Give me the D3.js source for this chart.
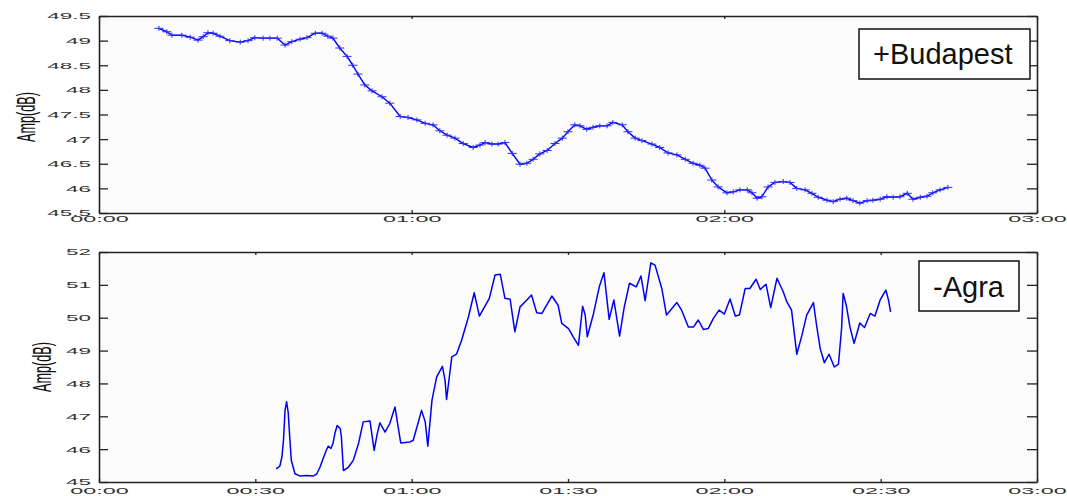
<!DOCTYPE html>
<html><head><meta charset="utf-8">
<script src="https://cdn.jsdelivr.net/npm/d3@7/dist/d3.min.js"></script>
<style>body{margin:0;background:#fff}svg{display:block}</style>
</head><body><svg id="c" width="1067" height="496"></svg>
<script>
// Time in minutes since 00:00, amplitude in dB
const budTime=[11.5,13.0,14.0,15.9,17.5,19.0,20.0,20.9,21.9,23.2,25.1,27.1,28.6,29.9,31.5,32.8,34.2,35.7,37.0,38.6,39.9,41.5,42.8,43.9,44.9,46.2,47.6,48.7,49.7,51.0,52.4,54.3,55.8,57.8,59.3,61.0,62.6,64.1,65.4,66.8,68.3,69.9,71.8,73.1,74.1,75.4,76.6,77.9,79.3,80.8,82.1,83.3,84.6,86.0,87.5,88.9,90.0,91.3,92.3,93.6,94.8,96.1,97.5,98.6,100.4,101.5,102.9,104.2,106.1,107.6,109.2,110.9,112.5,114.0,115.3,116.3,117.6,118.8,120.5,121.7,123.0,124.4,125.3,126.3,127.2,128.4,129.7,131.3,132.6,133.9,135.5,136.8,138.0,139.7,140.9,142.2,143.5,144.7,146.0,147.4,148.5,149.9,151.2,152.4,153.7,155.1,156.2,157.6,158.9,160.0,161.4,162.9];
const budAmp=[49.25,49.18,49.11,49.11,49.07,49.01,49.08,49.16,49.15,49.09,49.00,48.97,49.00,49.06,49.05,49.05,49.05,48.91,48.98,49.03,49.06,49.15,49.15,49.09,49.05,48.85,48.68,48.50,48.32,48.10,47.98,47.86,47.73,47.46,47.44,47.39,47.32,47.29,47.17,47.08,47.02,46.91,46.83,46.88,46.93,46.90,46.90,46.93,46.71,46.49,46.51,46.59,46.70,46.77,46.91,47.02,47.15,47.29,47.27,47.20,47.24,47.27,47.27,47.34,47.29,47.15,47.02,46.97,46.90,46.83,46.72,46.68,46.59,46.51,46.47,46.41,46.17,46.03,45.91,45.93,45.97,45.97,45.91,45.80,45.83,46.03,46.12,46.14,46.12,46.00,45.97,45.90,45.82,45.76,45.73,45.78,45.80,45.75,45.70,45.75,45.76,45.78,45.83,45.82,45.83,45.90,45.78,45.82,45.84,45.91,45.97,46.02];

const agraTime=[34.0,34.7,35.1,35.4,35.7,36.0,36.3,36.6,36.9,37.6,38.6,39.9,41.1,41.8,42.4,43.0,43.6,44.0,44.5,44.9,45.3,45.7,46.3,46.5,46.9,47.8,48.8,49.8,50.7,52.0,52.8,53.4,53.9,54.9,55.8,56.8,57.9,59.7,60.3,61.9,62.6,63.1,63.9,64.8,65.9,66.4,66.7,67.7,68.6,69.6,70.9,72.0,73.0,73.8,74.9,76.0,77.0,77.9,78.9,79.8,80.8,82.1,83.0,84.0,85.0,85.9,86.9,88.1,88.8,90.1,91.0,92.0,92.8,93.3,93.7,94.9,96.0,96.9,97.9,98.8,99.9,100.8,101.8,103.1,104.0,104.8,105.9,106.7,108.0,108.9,110.9,111.8,113.1,114.1,115.0,116.0,116.9,117.9,119.0,120.0,121.1,122.1,122.9,124.0,124.9,126.1,126.9,128.0,128.9,130.1,131.3,132.0,132.9,133.9,134.9,135.8,137.1,137.7,138.4,139.2,140.1,141.1,141.9,142.5,142.8,143.4,144.1,144.9,146.0,146.9,148.0,148.9,149.9,151.0,151.5,151.9];
const agraAmp=[45.40,45.48,45.76,46.27,47.18,47.44,47.13,46.37,45.66,45.25,45.18,45.20,45.18,45.25,45.45,45.71,45.96,46.09,46.02,46.17,46.50,46.72,46.62,46.40,45.35,45.44,45.66,46.17,46.83,46.86,45.96,46.47,46.80,46.52,46.78,47.28,46.19,46.22,46.27,47.18,46.83,46.09,47.49,48.20,48.52,48.10,47.51,48.81,48.89,49.32,50.03,50.76,50.05,50.28,50.59,51.30,51.32,50.59,50.56,49.57,50.33,50.54,50.69,50.15,50.13,50.38,50.66,50.38,49.83,49.67,49.42,49.16,50.35,50.08,49.42,50.13,50.94,51.37,49.95,50.54,49.44,50.33,51.05,50.94,51.27,50.52,51.67,51.60,50.89,50.08,50.46,50.23,49.72,49.72,49.93,49.64,49.67,49.98,50.23,50.11,50.57,50.05,50.08,50.89,50.89,51.17,50.86,51.02,50.31,51.20,50.79,50.48,50.23,48.89,49.47,50.08,50.46,49.77,49.06,48.63,48.89,48.50,48.59,49.67,50.74,50.38,49.72,49.22,49.84,49.70,50.13,50.05,50.54,50.84,50.54,50.18];

const budYTicks=[45.5,46,46.5,47,47.5,48,48.5,49,49.5];
const agraYTicks=[45,46,47,48,49,50,51,52];
const budXTicks=[0,60,120,180];
const agraXTicks=[0,30,60,90,120,150,180];
const budLabel="+Budapest", agraLabel="-Agra", yTitle="Amp(dB)";

const svg=d3.select("#c");
const X0=99,X1=1037;
const fmtTime=m=>String(Math.floor(m/60)).padStart(2,"0")+":"+String(m%60).padStart(2,"0");
const fmtY=d=>(d%1===0?String(d):d.toFixed(1));
const LBL="'Liberation Sans',Arial,sans-serif";

function panel(c){
  const x=d3.scaleLinear().domain([0,180]).range([X0,X1]);
  const y=d3.scaleLinear().domain(c.yDomain).range([c.bottom,c.top]);
  const g=svg.append("g");
  g.append("rect").attr("x",X0).attr("y",c.top).attr("width",X1-X0).attr("height",c.bottom-c.top).attr("fill","#fbfbfb");

  const axL=g.append("g").attr("transform",`translate(${X0},0)`)
    .call(d3.axisLeft(y).tickValues(c.yTicks).tickFormat(fmtY).tickSizeInner(-9).tickSizeOuter(0).tickPadding(8));
  const axR=g.append("g").attr("transform",`translate(${X1},0)`)
    .call(d3.axisRight(y).tickValues(c.yTicks).tickFormat("").tickSizeInner(-10).tickSizeOuter(0));
  const axB=g.append("g").attr("transform",`translate(0,${c.bottom})`)
    .call(d3.axisBottom(x).tickValues(c.xTicks).tickFormat(fmtTime).tickSizeInner(-3).tickSizeOuter(0).tickPadding(c.xPad));
  const axT=g.append("g").attr("transform",`translate(0,${c.top})`)
    .call(d3.axisTop(x).tickValues(c.xTicks).tickFormat("").tickSizeInner(-3).tickSizeOuter(0));
  [axL,axR,axB,axT].forEach(a=>{
    a.select(".domain").attr("stroke","#222").attr("stroke-width",1.6);
    a.selectAll(".tick line").attr("stroke","#222").attr("stroke-width",1.3);
    a.selectAll("text").attr("font-family",LBL).attr("font-size",9).attr("fill","#333");
  });
  axL.selectAll(".tick text").each(function(){
    const t=d3.select(this); const tx=+t.attr("x");
    t.attr("x",0).attr("transform",`translate(${tx},0) scale(2.5,1)`);
  });
  axB.selectAll(".tick text").attr("transform","scale(2.6,1)");

  const pts=c.time.map((t,i)=>[t,c.amp[i]]);
  g.append("path").datum(pts).attr("fill","none").attr("stroke","#0000f0").attr("stroke-width",c.lw)
    .attr("stroke-linejoin","round").attr("d",d3.line().x(d=>x(d[0])).y(d=>y(d[1])));
  if(c.markers){
    g.append("g").selectAll("path").data(pts).join("path")
      .attr("fill","none").attr("stroke","#2a2aff").attr("stroke-width",1)
      .attr("d",d=>{const cx=x(d[0]),cy=y(d[1]);return `M${cx-4.5},${cy}h9M${cx},${cy-2.5}v5`;});
  }
  // legend
  g.append("rect").attr("x",c.leg[0]).attr("y",c.leg[1]).attr("width",c.leg[2]).attr("height",c.leg[3])
    .attr("fill","#fff").attr("stroke","#111").attr("stroke-width",1.5);
  g.append("text").attr("x",c.leg[4]).attr("y",c.leg[5]).text(c.label)
    .attr("font-family",LBL).attr("font-size",29).attr("fill","#111");
  // y title
  g.append("text").attr("transform",`translate(${c.yl[0]},${c.yl[1]}) rotate(-90)`)
    .attr("text-anchor","middle").attr("dy","0.35em").attr("textLength",50).attr("lengthAdjust","spacingAndGlyphs")
    .attr("font-family",LBL).attr("font-size",25).attr("fill","#111").text(yTitle);
}

panel({top:16,bottom:213,yDomain:[45.5,49.5],yTicks:budYTicks,xTicks:budXTicks,xPad:3,
  time:budTime,amp:budAmp,markers:true,lw:1.4,label:budLabel,
  leg:[859,29,171,50,873,64],yl:[26,117]});
panel({top:252,bottom:482,yDomain:[45,52],yTicks:agraYTicks,xTicks:agraXTicks,xPad:6,
  time:agraTime,amp:agraAmp,markers:false,lw:1.5,label:agraLabel,
  leg:[919,261,100,50,933,296.5],yl:[42,367]});
</script>
</body></html>
